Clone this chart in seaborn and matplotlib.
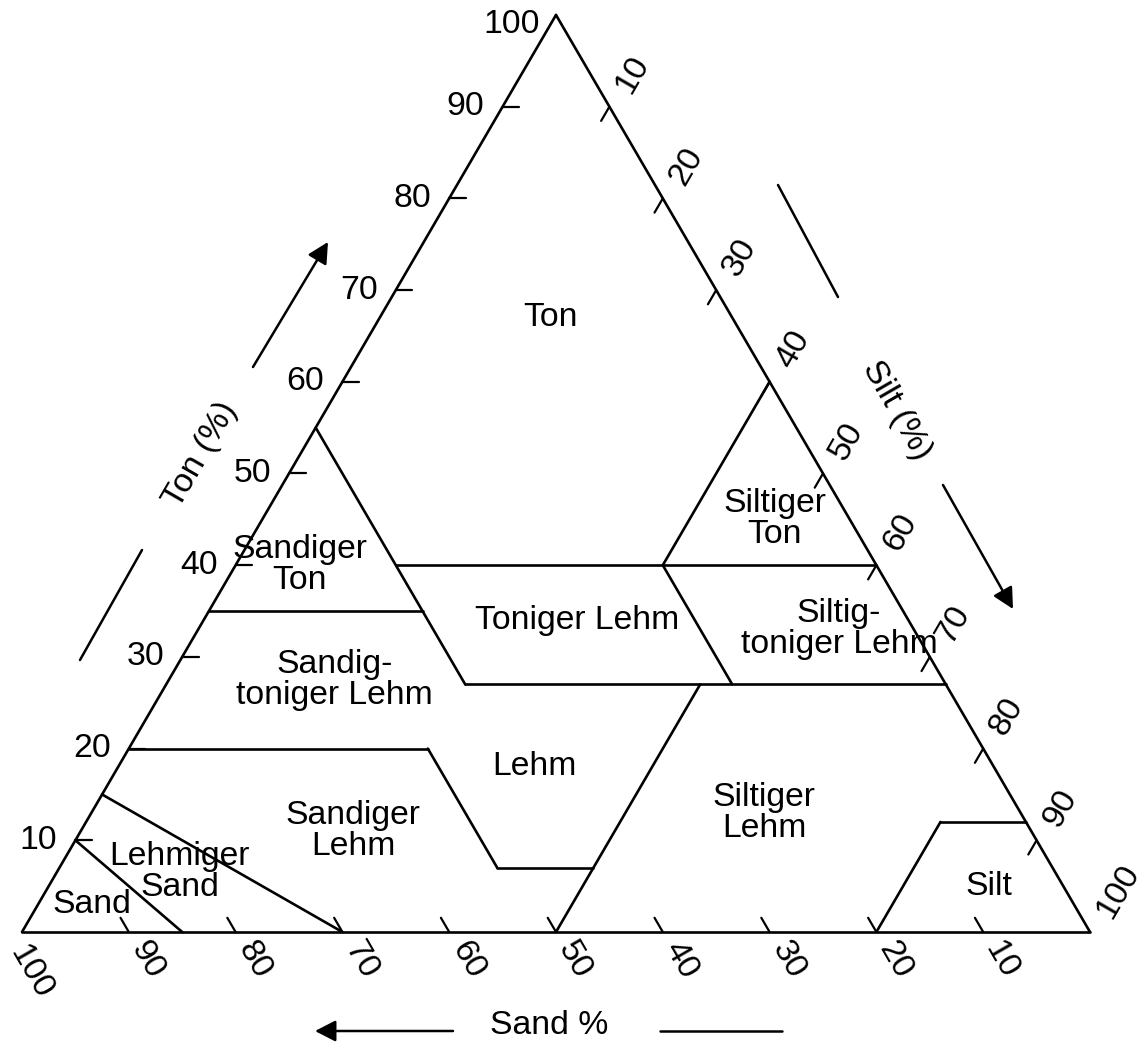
import numpy as np
import pandas as pd
import matplotlib
matplotlib.use('Agg')
import matplotlib.pyplot as plt
import seaborn as sns

sns.set_style('white')
plt.rcParams['font.family'] = ['Liberation Sans', 'DejaVu Sans']
plt.rcParams['text.color'] = 'black'

# class boundaries as (sand, silt, clay) end points
boundaries = [
    [(100, 0, 0), (0, 100, 0)],
    [(0, 100, 0), (0, 0, 100)],
    [(0, 0, 100), (100, 0, 0)],
    [(85, 15, 0), (90, 0, 10)],
    [(70, 30, 0), (85, 0, 15)],
    [(80, 0, 20), (52, 28, 20)],
    [(52, 28, 20), (52, 41, 7)],
    [(52, 41, 7), (43, 50, 7)],
    [(50, 50, 0), (23, 50, 27)],
    [(45, 28, 27), (0, 73, 27)],
    [(45, 28, 27), (45, 0, 55)],
    [(65, 0, 35), (45, 20, 35)],
    [(45, 15, 40), (0, 60, 40)],
    [(20, 53, 27), (20, 40, 40)],
    [(20, 40, 40), (0, 40, 60)],
    [(20, 80, 0), (8, 80, 12)],
    [(8, 80, 12), (0, 88, 12)],
]

# class names and a (sand, silt, clay) point where the name sits
class_names = ['Ton', 'Sandiger\nTon', 'Toniger Lehm', 'Siltiger\nTon',
               'Siltig-\ntoniger Lehm', 'Sandig-\ntoniger Lehm', 'Lehm',
               'Siltiger\nLehm', 'Sandiger\nLehm', 'Lehmiger\nSand', 'Sand', 'Silt']
class_pos = [(17, 16, 67), (54, 6, 40), (31, 35, 34), (7, 48, 45),
             (7, 60, 33), (57, 15.5, 27.5), (43, 39, 18), (24, 63, 13),
             (63.5, 25.5, 11), (82, 11.5, 6.5), (92, 5, 3), (7, 88, 5)]

ticks = [10, 20, 30, 40, 50, 60, 70, 80, 90, 100]

H = np.sqrt(3) / 2
SX, SY = 10.68, 10.589  # reference pixels per data unit


def tern(sand, silt, clay):
    return silt + clay / 2, clay * H


def px(x, y):
    # reference pixel position -> data coords (used for decorations only)
    return (x - 22) / SX, (932 - y) / SY


rows = []
for i, (a, b) in enumerate(boundaries):
    for p in (a, b):
        x, y = tern(*p)
        rows.append({'seg': i, 'x': x, 'y': y})
df = pd.DataFrame(rows)

fig = plt.figure(figsize=(11.43, 10.45), dpi=100)
ax = fig.add_axes([0, 0, 1, 1])
sns.lineplot(data=df, x='x', y='y', units='seg', estimator=None, sort=False,
             color='black', linewidth=1.9, legend=False, ax=ax)

fs = 24.3
L = 1.55

for t in ticks:
    # clay (left edge), tick points right
    x, y = tern(100 - t, 0, t)
    if t < 100:
        ax.plot([x, x + L], [y, y], color='black', lw=1.6)
        ax.text(x - 18 / SX, y, str(t), ha='right', va='center', fontsize=fs)
    else:
        ax.text(x - 16 / SX, y - 10 / SY, str(t), ha='right', va='center', fontsize=fs)

    # silt (right edge), tick points down-left
    x, y = tern(0, t, 100 - t)
    if t < 100:
        ax.plot([x, x - 0.5 * L], [y, y - H * L], color='black', lw=1.6)
    ax.text(x + 14 / SX, y + 16 / SY, str(t), ha='left', va='center',
            rotation=60, rotation_mode='anchor', fontsize=fs)

    # sand (bottom edge), tick points up-left
    x, y = tern(t, 100 - t, 0)
    if t < 100:
        ax.plot([x, x - 0.5 * L], [y, y + H * L], color='black', lw=1.6)
        ax.text(x + 9 / SX, y - 12 / SY, str(t), ha='left', va='center',
                rotation=-60, rotation_mode='anchor', fontsize=fs)
    else:
        ax.text(x - 5 / SX, y - 16 / SY, str(t), ha='left', va='center',
                rotation=-60, rotation_mode='anchor', fontsize=fs)

for name, pos in zip(class_names, class_pos):
    x, y = tern(*pos)
    ax.text(x, y, name, ha='center', va='center', fontsize=fs, linespacing=1.0)

# axis titles
ax.text(*px(201, 455), 'Ton (%)', rotation=60, ha='center', va='center', fontsize=fs)
ax.text(*px(897, 410), 'Silt (%)', rotation=-60, ha='center', va='center', fontsize=fs)
ax.text(*px(549, 1025), 'Sand %', ha='center', va='center', fontsize=fs)

# direction arrows and lines
arrow = dict(arrowstyle='-|>,head_length=0.7,head_width=0.36', color='black', lw=1.8,
             shrinkA=0, shrinkB=0, mutation_scale=18)
ax.annotate('', xy=px(328, 242), xytext=px(253, 367), arrowprops=arrow)
ax.annotate('', xy=px(1013, 609), xytext=px(943, 485), arrowprops=arrow)
ax.annotate('', xy=px(315, 1031), xytext=px(453, 1031), arrowprops=arrow)
for (x0, y0), (x1, y1) in [((80, 660), (142, 550)), ((778, 185), (838, 297)),
                           ((660, 1031), (782, 1031))]:
    a, b = px(x0, y0), px(x1, y1)
    ax.plot([a[0], b[0]], [a[1], b[1]], color='black', lw=1.8)

ax.set_xlim(-22 / SX, (1143 - 22) / SX)
ax.set_ylim(-(1045 - 932) / SY, 932 / SY)
ax.axis('off')

fig.savefig('out.png', dpi=100)
